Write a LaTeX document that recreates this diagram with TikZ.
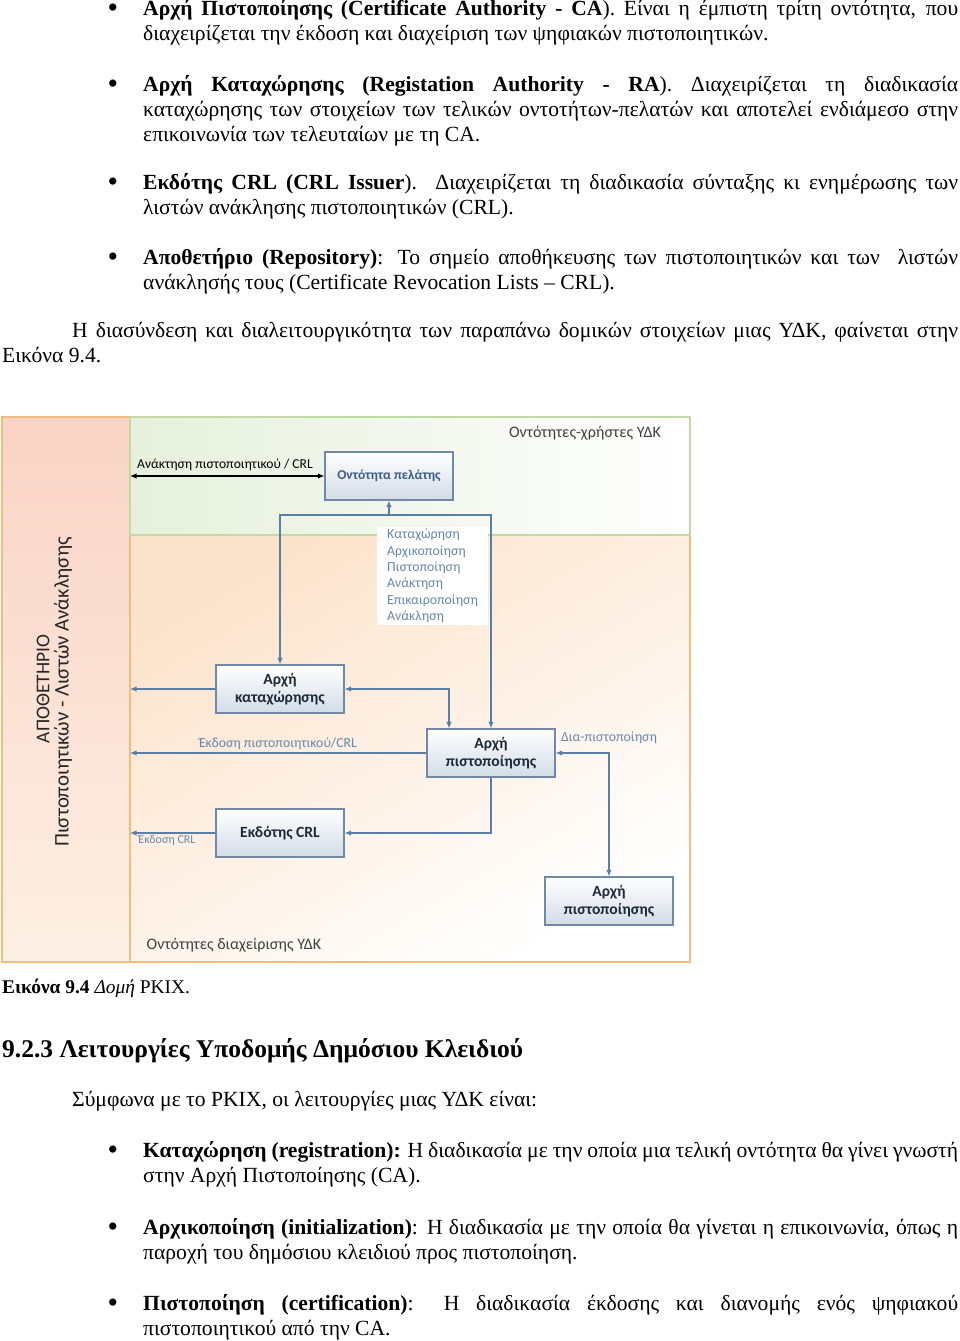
\documentclass[tikz,border=0pt]{standalone}
\usepackage{fontspec}
\setmainfont{Liberation Serif}
\newfontfamily\diafont{Carlito}
\usepackage{tikz}
\usetikzlibrary{backgrounds}
\usetikzlibrary{arrows.meta}
\usepackage{xcolor}
\definecolor{framebrown}{HTML}{EDBE80}
\definecolor{framegreen}{HTML}{C4D8A6}
\definecolor{stripfill}{HTML}{F9D3C5}
\definecolor{stripfade}{HTML}{FDF0E4}
\definecolor{userfill}{HTML}{E6F0DC}
\definecolor{mgmtfill}{HTML}{FCE3CB}
\definecolor{boxfill}{HTML}{D3DCE7}
\definecolor{boxline}{HTML}{6F89A7}
\definecolor{boxtext}{HTML}{1E2A38}
\definecolor{clienttext}{HTML}{3C5E86}
\definecolor{connline}{HTML}{5A7EA6}
\definecolor{labeltext}{HTML}{6688B0}

\begin{document}
\begin{tikzpicture}[x=1pt, y=-1pt,
		background rectangle/.style={fill=white}, show background rectangle, inner frame sep=0pt,
		>={Latex[length=6.5pt, width=5.5pt]},
		bodytext/.style={anchor=base west, text width=815pt, align=justify, inner sep=0pt, font=\fontsize{21.6}{25}\selectfont},
		plaintext/.style={anchor=base west, inner sep=0pt, font=\fontsize{21.6}{25}\selectfont},
		bulletmark/.style={anchor=base, inner sep=0pt, text height=12pt, text depth=0pt, font=\fontsize{30}{25}\selectfont},
		box/.style={draw=boxline, line width=1.1pt, top color=white, bottom color=boxfill, minimum width=128pt, minimum height=48pt, align=center, text=boxtext, font=\diafont\bfseries\fontsize{15.6}{18.5}\selectfont},
		conn/.style={draw=connline, line width=1.2pt},
		arclabel/.style={text=labeltext, inner sep=1pt, font=\diafont\fontsize{13.8}{16.3}\selectfont},
		zonelabel/.style={text=black!75, inner sep=0pt, font=\diafont\fontsize{16}{18}\selectfont},
		striplabel/.style={rotate=90, text=black!85, inner sep=0pt, font=\diafont\fontsize{19.5}{22}\selectfont}]
		\useasboundingbox (0,0) rectangle (960,1341);
		%
		% text above the figure
		\node (bul-ca) [bulletmark] at (113,17) {•};
		\node (par-ca) [bodytext] at (143,15) {\textbf{Αρχή Πιστοποίησης (Certificate Authority - CA}). Είναι η έμπιστη τρίτη οντότητα, που\linebreak διαχειρίζεται την έκδοση και διαχείριση των ψηφιακών πιστοποιητικών.};
		\node (bul-ra) [bulletmark] at (113,93) {•};
		\node (par-ra) [bodytext] at (143,91) {\textbf{Αρχή Καταχώρησης (Registation Authority - RA}). Διαχειρίζεται τη διαδικασία\linebreak καταχώρησης των στοιχείων των τελικών οντοτήτων-πελατών και αποτελεί ενδιάμεσο στην\linebreak επικοινωνία των τελευταίων με τη CA.};
		\node (bul-crl) [bulletmark] at (113,191) {•};
		\node (par-crl) [bodytext] at (143,189) {\textbf{Εκδότης CRL (CRL Issuer}). Διαχειρίζεται τη διαδικασία σύνταξης κι ενημέρωσης των\linebreak λιστών ανάκλησης πιστοποιητικών (CRL).};
		\node (bul-repo) [bulletmark] at (113,266) {•};
		\node (par-repo) [bodytext] at (143,264) {\textbf{Αποθετήριο (Repository)}: Το σημείο αποθήκευσης των πιστοποιητικών και των\ \ λιστών\linebreak ανάκλησής τους (Certificate Revocation Lists – CRL).};
		\node (par-link) [bodytext, text width=956pt] at (2,337) {\hspace*{70pt}Η διασύνδεση και διαλειτουργικότητα των παραπάνω δομικών στοιχείων μιας ΥΔΚ, φαίνεται στην\linebreak Εικόνα 9.4.};
		%
		% the figure: zones
		\draw [framebrown, line width=1.4pt, top color=stripfill, bottom color=stripfade] (2,417) rectangle (130,962);
		\draw [framebrown, line width=1.4pt, top color=mgmtfill, bottom color=white, shading angle=30] (130,535) rectangle (690,962);
		\draw [framegreen, line width=1.4pt, left color=userfill, right color=white] (130,417) rectangle (690,535);
		%
		\node (repo-title) [striplabel] at (43,689) {ΑΠΟΘΕΤΗΡΙΟ};
		\node (repo-sub) [striplabel, font=\diafont\fontsize{20.8}{22}\selectfont] at (63,692) {Πιστοποιητικών - Λιστών Ανάκλησης};
		\node (zone-users) [zonelabel] at (585,433) {Οντότητες-χρήστες ΥΔΚ};
		\node (zone-mgmt) [zonelabel] at (234,945) {Οντότητες διαχείρισης ΥΔΚ};
		%
		% the figure: entities
		\node (cl) [box, text=clienttext, font=\diafont\bfseries\fontsize{13.5}{16}\selectfont] at (389,476) {Οντότητα πελάτης};
		\node (ra) [box] at (280,689) {Αρχή\\καταχώρησης};
		\node (ca) [box] at (491,753) {Αρχή\\πιστοποίησης};
		\node (crl) [box] at (280,833) {Εκδότης CRL};
		\node (ca2) [box] at (609,901) {Αρχή\\πιστοποίησης};
		%
		\node (ops) [arclabel, anchor=north west, align=left, fill=white, inner xsep=10pt, inner ysep=2pt] at (377,527) {Καταχώρηση\\Αρχικοποίηση\\Πιστοποίηση\\Ανάκτηση\\Επικαιροποίηση\\Ανάκληση};
		%
		% the figure: connectors
		\coordinate (repo-cl) at (130,476);
		\coordinate (repo-ra) at (130,689);
		\coordinate (repo-ca) at (130,753);
		\coordinate (repo-crl) at (130,833);
		\coordinate (bus) at (389,515);
		%
		\draw [black, line width=1.2pt, <->] (repo-cl) -- (cl);
		\node (fetch-lbl) [inner sep=0pt, font=\diafont\fontsize{13.6}{15}\selectfont] at (225,465) {Ανάκτηση πιστοποιητικού / CRL};
		%
		\draw [conn, ->] (bus) -- (cl);
		\draw [conn, ->] (bus) -| (ra);
		\draw [conn, ->] (bus) -| (ca);
		\draw [conn, <->] (ra.east) -| ([xshift=-42pt]ca.north);
		\draw [conn, ->] (ra) -- (repo-ra);
		\draw [conn, ->] (ca) -- (repo-ca);
		\node (issue-lbl) [arclabel] at (278,744) {Έκδοση πιστοποιητικού/CRL};
		\draw [conn, <->] (ca.east) -| (ca2);
		\node (cross-lbl) [arclabel] at (609,738) {Δια-πιστοποίηση};
		\draw [conn, ->] (ca) |- (crl);
		\draw [conn, ->] (crl) -- (repo-crl);
		\node (crl-lbl) [arclabel, font=\diafont\fontsize{12}{13}\selectfont] at (167,840) {Έκδοση CRL};
		%
		% text below the figure
		\node (caption) [plaintext, font=\fontsize{19.4}{25}\selectfont] at (2,993) {\textbf{Εικόνα 9.4} \textit{Δομή} PKIX.};
		\node (heading) [plaintext, font=\bfseries\fontsize{25.5}{28}\selectfont] at (2,1057) {9.2.3 Λειτουργίες Υποδομής Δημόσιου Κλειδιού};
		\node (intro) [plaintext] at (72,1106) {Σύμφωνα με το PKIX, οι λειτουργίες μιας ΥΔΚ είναι:};
		\node (bul-reg) [bulletmark] at (113,1159) {•};
		\node (par-reg) [bodytext] at (143,1157) {\textbf{Καταχώρηση (registration):} Η διαδικασία με την οποία μια τελική οντότητα θα γίνει γνωστή\linebreak στην Αρχή Πιστοποίησης (CA).};
		\node (bul-init) [bulletmark] at (113,1236) {•};
		\node (par-init) [bodytext] at (143,1234) {\textbf{Αρχικοποίηση (initialization)}: Η διαδικασία με την οποία θα γίνεται η επικοινωνία, όπως η\linebreak παροχή του δημόσιου κλειδιού προς πιστοποίηση.};
		\node (bul-cert) [bulletmark] at (113,1312) {•};
		\node (par-cert) [bodytext] at (143,1310) {\textbf{Πιστοποίηση (certification)}: Η διαδικασία έκδοσης και διανομής ενός ψηφιακού\linebreak πιστοποιητικού από την CA.};
	\end{tikzpicture}
\end{document}
